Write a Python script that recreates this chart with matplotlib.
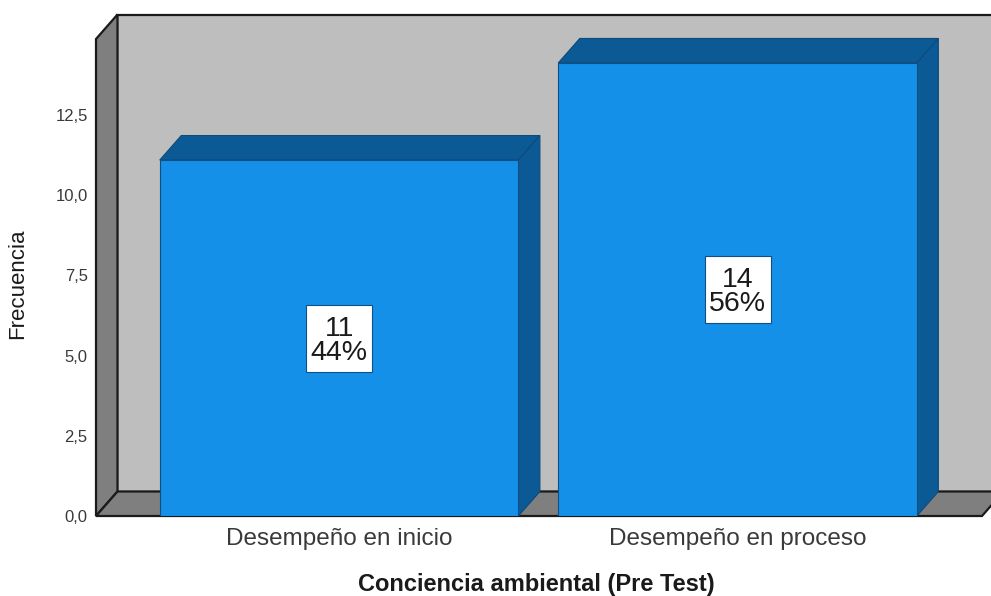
import numpy as np
import matplotlib
matplotlib.use('Agg')
import matplotlib.pyplot as plt
from matplotlib.patches import Rectangle

plt.rcParams['font.family'] = ['Liberation Sans', 'DejaVu Sans']

# Data
categories = ['Desempeño en inicio', 'Desempeño en proceso']
counts = [11, 14]
percents = ['44%', '56%']
y_ticks = [0.0, 2.5, 5.0, 7.5, 10.0, 12.5]
y_tick_labels = ['0,0', '2,5', '5,0', '7,5', '10,0', '12,5']

W, H = 991, 596
front_color = '#1490E8'
side_color = '#0B5A96'
wall_color = '#BEBEBE'
dark_wall = '#7F7F7F'
line_color = '#1A1A1A'

fig = plt.figure(figsize=(W / 100, H / 100), dpi=100, facecolor='white')
left, right, top, bottom = 96, 982, 39, 516
ax = fig.add_axes([left / W, 1 - bottom / H, (right - left) / W, (bottom - top) / H])

px_per_val = 32.36
px_per_cat = 398.5
x0, x1 = -0.61, 1.6135
y1 = (bottom - top) / px_per_val
ax.set_xlim(x0, x1)
ax.set_ylim(0, y1)

# 3D depth, in data units
dx = 21.5 / px_per_cat
dy = 24.5 / px_per_val
bar_w = 0.9
box_w = 66 / px_per_cat
box_h = 67 / px_per_val

# Walls and floor
ax.fill([x0, x0 + dx, x0 + dx, x0], [0, dy, y1 + dy, y1], color=dark_wall, ec=line_color, lw=1.6, clip_on=False, zorder=2)
ax.fill([x0 + dx, x1 + dx, x1 + dx, x0 + dx], [dy, dy, y1 + dy, y1 + dy], color=wall_color, ec=line_color, lw=1.6, clip_on=False, zorder=1)
ax.fill([x0, x1, x1 + dx, x0 + dx], [0, 0, dy, dy], color=dark_wall, ec=line_color, lw=1.6, clip_on=False, zorder=2)

# Bars
xs = np.arange(len(counts))
ax.bar(xs, counts, width=bar_w, color=front_color, edgecolor='#0F4F86', linewidth=0.8, zorder=4)
for x, v, pct in zip(xs, counts, percents):
    l, r = x - bar_w / 2, x + bar_w / 2
    ax.fill([l, r, r + dx, l + dx], [v, v, v + dy, v + dy], color=side_color, ec='#0C4A7C', lw=0.8, clip_on=False, zorder=3)
    ax.fill([r, r + dx, r + dx, r], [0, dy, v + dy, v], color=side_color, ec='#0C4A7C', lw=0.8, clip_on=False, zorder=3)
    ax.add_patch(Rectangle((x - box_w / 2, v / 2 - box_h / 2), box_w, box_h, fc='white', ec='#0F4F86', lw=0.8, zorder=5))
    ax.annotate(f'{v}\n{pct}', (x, v / 2), xytext=(0, -2), textcoords='offset points', ha='center', va='center',
                fontsize=20.5, color='#1A1A1A', linespacing=0.9, zorder=6)

# Ticks and labels
for spine in ax.spines.values():
    spine.set_visible(False)
ax.set_xticks(xs)
ax.set_xticklabels(categories, fontsize=17.5, color='#3A3A3A')
ax.set_yticks([t * 32.08 / px_per_val for t in y_ticks])
ax.set_yticklabels(y_tick_labels, fontsize=12, color='#3A3A3A')
ax.tick_params(axis='both', length=0)
ax.tick_params(axis='x', pad=9)
ax.tick_params(axis='y', pad=6)

fig.text(536 / W, 1 - 584.5 / H, 'Conciencia ambiental (Pre Test)', ha='center', va='center',
         fontsize=17, fontweight='bold', color='#1A1A1A')
fig.text(18 / W, 1 - 284 / H, 'Frecuencia', rotation=90, ha='center', va='center',
         fontsize=16, color='#1A1A1A')

fig.savefig('out.png', dpi=100, facecolor='white')
